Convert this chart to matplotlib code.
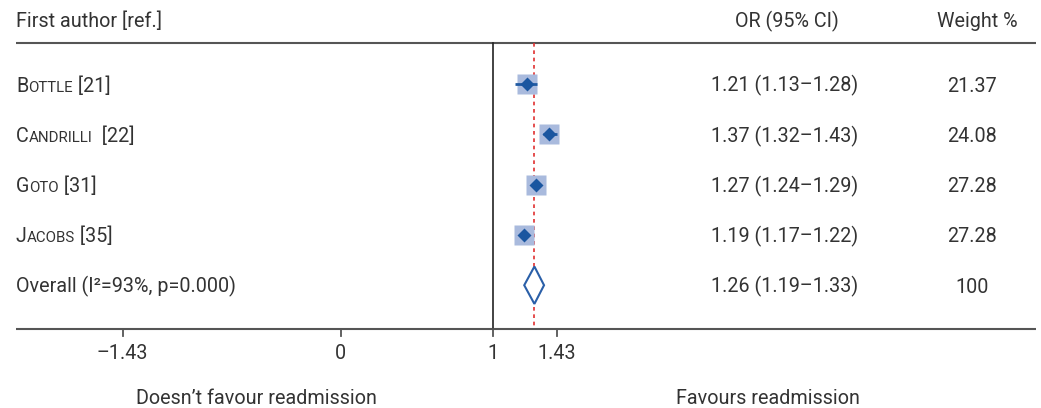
import matplotlib
matplotlib.use("Agg")
import matplotlib.pyplot as plt
from matplotlib.transforms import blended_transform_factory
from matplotlib.patches import Polygon

# ---------------- data ----------------
name_initial = ["B", "C", "G", "J"]
name_rest = ["OTTLE", "ANDRILLI", "OTO", "ACOBS"]
name_ref = [" [21]", "  [22]", " [31]", " [35]"]
or_vals = [1.21, 1.37, 1.27, 1.19]
ci_low = [1.13, 1.32, 1.24, 1.17]
ci_high = [1.28, 1.43, 1.29, 1.22]
weights = ["21.37", "24.08", "27.28", "27.28"]

overall_label = "Overall (I²=93%, p=0.000)"
overall_or = 1.26
overall_low = 1.19
overall_high = 1.33
overall_weight = "100"

tick_values = [0.1248, 0.425, 1.0, 1.43]
tick_labels = ["–1.43", "0", "1", "1.43"]

header_left = "First author [ref.]"
header_or = "OR (95% CI)"
header_w = "Weight %"
label_left = "Doesn’t favour readmission"
label_right = "Favours readmission"

# ---------------- style ----------------
W, H = 1041, 408
FS = 14.2
TXT = "#333333"
plt.rcParams["font.family"] = ["Roboto", "DejaVu Sans"]

fig = plt.figure(figsize=(W / 100, H / 100), dpi=100)
ax = fig.add_axes([0, 0, 1, 1])
ax.set_xscale("log")
ax.set_xlim(0.0627, 21.66)
ax.set_ylim(6.441, -1.670)
ax.axis("off")

tr = blended_transform_factory(ax.transAxes, ax.transData)
renderer = fig.canvas.get_renderer()


def fx(px):
    return px / W


ROW_PX = 50.3
top_rule = -0.81
bottom_rule = 4.88
base_off = 0.15  # baseline offset (rows) below row centre

# rules
ax.plot([fx(16), fx(1036)], [top_rule, top_rule], transform=tr, color="#555555", lw=1.5,
        solid_capstyle="butt")
ax.plot([fx(16), fx(1036)], [bottom_rule, bottom_rule], transform=tr, color="#555555", lw=1.5,
        solid_capstyle="butt")

# null line & overall line
ax.plot([1, 1], [top_rule, bottom_rule], color="#222222", lw=1.2)
ax.plot([overall_or, overall_or], [top_rule, bottom_rule], color="#e03030", lw=1.2,
        ls=(0, (2.2, 2.2)))

# ticks
for v, lab in zip(tick_values, tick_labels):
    ax.plot([v, v], [bottom_rule, bottom_rule + 7 / ROW_PX], color="#555555", lw=1.3)
    ax.text(v, 5.32 + base_off, lab, ha="center", va="baseline", fontsize=FS, color=TXT)

# headers
ax.text(fx(16), -1.28 + base_off, header_left, transform=tr, fontsize=FS, color=TXT, va="baseline")
ax.text(fx(787), -1.28 + base_off, header_or, transform=tr, fontsize=FS, color=TXT, va="baseline",
        ha="center")
ax.text(fx(977), -1.28 + base_off, header_w, transform=tr, fontsize=FS, color=TXT, va="baseline",
        ha="center")

# study rows
for i in range(len(or_vals)):
    y = i
    # small-caps name
    x = fx(16)
    for part, size in ((name_initial[i], FS), (name_rest[i], FS * 0.76), (name_ref[i], FS)):
        t = ax.text(x, y + base_off, part, transform=tr, fontsize=size, color=TXT, va="baseline")
        bb = t.get_window_extent(renderer)
        x = ax.transAxes.inverted().transform((bb.x1, 0))[0]
    # marks
    ax.plot(or_vals[i], y, marker="s", ms=13.8, color="#a9badd", mec="none", zorder=2)
    ax.plot([ci_low[i], ci_high[i]], [y, y], color="#1f5aa2", lw=2, zorder=3,
            solid_capstyle="butt")
    ax.plot(or_vals[i], y, marker="D", ms=6.8, color="#1a56a0", mec="none", zorder=4)
    # columns
    ax.text(fx(785), y + base_off, f"{or_vals[i]:.2f} ({ci_low[i]:.2f}–{ci_high[i]:.2f})",
            transform=tr, fontsize=FS, color=TXT, va="baseline", ha="center")
    ax.text(fx(972), y + base_off, weights[i], transform=tr, fontsize=FS, color=TXT,
            va="baseline", ha="center")

# overall row
yo = len(or_vals)
ax.text(fx(16), yo + base_off, overall_label, transform=tr, fontsize=FS, color=TXT, va="baseline")
hh = 18.7 / ROW_PX
diamond = Polygon([(overall_low, yo), (overall_or, yo - hh), (overall_high, yo), (overall_or, yo + hh)],
                  closed=True, facecolor="white", edgecolor="#2a5fa8", lw=1.5, zorder=3)
ax.add_patch(diamond)
ax.text(fx(785), yo + base_off, f"{overall_or:.2f} ({overall_low:.2f}–{overall_high:.2f})",
        transform=tr, fontsize=FS, color=TXT, va="baseline", ha="center")
ax.text(fx(972), yo + base_off, overall_weight, transform=tr, fontsize=FS, color=TXT,
        va="baseline", ha="center")

# bottom labels
ax.text(fx(256), 6.22 + base_off, label_left, transform=tr, fontsize=FS, color=TXT,
        va="baseline", ha="center")
ax.text(fx(767.5), 6.22 + base_off, label_right, transform=tr, fontsize=FS, color=TXT,
        va="baseline", ha="center")

fig.savefig("out.png", dpi=100)
